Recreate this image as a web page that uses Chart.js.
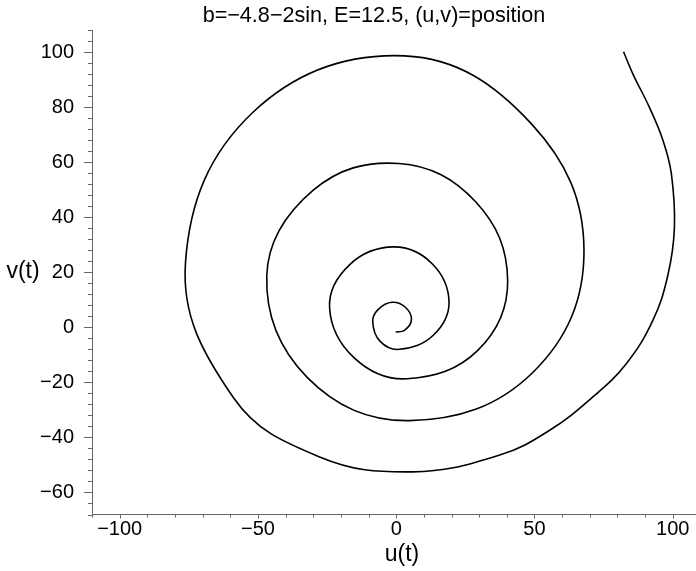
<!DOCTYPE html>
<html>
<head>
<meta charset="utf-8">
<script src="https://cdn.jsdelivr.net/npm/chart.js@4/dist/chart.umd.min.js"></script>
<style>
  html, body { margin: 0; padding: 0; background: #ffffff; }
  #wrap { width: 696px; height: 571px; position: relative; }
</style>
</head>
<body>
<div id="wrap"><canvas id="c" width="696" height="571"></canvas></div>
<script>
// ---- Data ----
const chartTitle = "b=\u22124.8\u22122sin, E=12.5, (u,v)=position";
const xAxisLabel = "u(t)";
const yAxisLabel = "v(t)";

const xMajorTicks = [-100, -50, 0, 50, 100];
const yMajorTicks = [-60, -40, -20, 0, 20, 40, 60, 80, 100];

// trajectory u(t), in drawing order (from the centre outward)
const uValues = [
  -0.2, 3.0, 5.5, 3.4, -1.5, -6.5, -8.5, -5.9, 1.2, 13.4,
  19.1, 13.0, -0.9, -16.8, -24.1, -15.1, 3.9, 29.5, 40.3, 28.8,
  1.0, -30.0, -46.8, -32.2, 4.8, 49.3, 67.9, 48.9, 3.0, -51.7,
  -76.2, -58.9, -27.7, 5.9, 37.4, 55.5, 71.1, 83.2, 92.8, 98.2,
  100.6, 99.5, 96.5, 91.6, 85.6, 82.2
];
// trajectory v(t), same order
const vValues = [
  -1.7, -1.1, 2.7, 7.2, 9.1, 6.5, 2.1, -5.0, -8.0, -2.9,
  9.1, 23.1, 29.2, 22.8, 7.3, -11.2, -18.7, -8.4, 17.0, 45.5,
  59.5, 49.8, 18.8, -18.2, -33.9, -16.5, 28.0, 73.9, 98.6, 78.2,
  23.5, -25.5, -47.1, -52.5, -46.4, -37.4, -25.3, -13.2, 2.5, 18.8,
  36.3, 55.7, 67.8, 79.8, 92.0, 100.1
];

// ---- Chart ----
const FONT = "'Liberation Sans', Arial, Helvetica, sans-serif";
const AXIS_COLOR = '#666666';
const X_MIN = -110, X_MAX = 108.4, Y_MIN = -68, Y_MAX = 108;

const points = uValues.map((u, i) => ({ x: u, y: vValues[i] }));
const fmt = v => (v < 0 ? '\u2212' + Math.abs(v) : String(v));

const decorPlugin = {
  id: 'decor',
  afterDraw(chart) {
    const ctx = chart.ctx;
    const xs = chart.scales.x, ys = chart.scales.y;
    const area = chart.chartArea;
    ctx.save();
    ctx.strokeStyle = AXIS_COLOR;
    ctx.lineWidth = 1;
    ctx.beginPath();
    // x ticks (every 10, majors every 50)
    for (let v = -110; v <= X_MAX; v += 10) {
      const px = Math.round(xs.getPixelForValue(v)) + 0.5;
      const len = (v % 50 === 0) ? 4 : 3;
      ctx.moveTo(px, area.bottom);
      ctx.lineTo(px, area.bottom + len);
    }
    // y ticks (every 4, majors every 20)
    for (let v = Y_MIN; v <= Y_MAX; v += 4) {
      const py = Math.round(ys.getPixelForValue(v)) + 0.5;
      const len = (v % 20 === 0) ? 8 : 4;
      ctx.moveTo(area.left, py);
      ctx.lineTo(area.left - len, py);
    }
    ctx.stroke();

    ctx.fillStyle = '#000000';
    ctx.textAlign = 'center';
    ctx.textBaseline = 'middle';
    ctx.font = '21.6px ' + FONT;
    ctx.fillText(chartTitle, 374, 16);
    ctx.font = '23px ' + FONT;
    ctx.fillText(xAxisLabel, 402, 555);
    ctx.fillText(yAxisLabel, 23, 272);
    ctx.restore();
  }
};

new Chart(document.getElementById('c'), {
  type: 'scatter',
  data: {
    datasets: [{
      data: points,
      showLine: true,
      borderColor: '#000000',
      borderWidth: 1.6,
      pointRadius: 0,
      pointHoverRadius: 0,
      tension: 0.4,
      fill: false
    }]
  },
  options: {
    responsive: false,
    animation: false,
    devicePixelRatio: 1,
    layout: { padding: { top: 29, left: 0, right: 0, bottom: 0 } },
    plugins: {
      legend: { display: false },
      title: { display: false },
      tooltip: { enabled: false }
    },
    scales: {
      x: {
        type: 'linear',
        min: X_MIN,
        max: X_MAX,
        afterFit: s => { s.height = 56.5; },
        afterBuildTicks: s => { s.ticks = xMajorTicks.map(v => ({ value: v })); },
        ticks: {
          autoSkip: false,
          includeBounds: false,
          maxRotation: 0,
          padding: 3,
          color: '#000000',
          font: { family: FONT, size: 20 },
          callback: v => fmt(v)
        },
        grid: { display: true, drawOnChartArea: false, drawTicks: false },
        border: { display: true, color: AXIS_COLOR, width: 1 }
      },
      y: {
        type: 'linear',
        min: Y_MIN,
        max: Y_MAX,
        afterFit: s => { s.width = 92; },
        afterBuildTicks: s => { s.ticks = yMajorTicks.map(v => ({ value: v })); },
        ticks: {
          autoSkip: false,
          includeBounds: false,
          padding: 18,
          color: '#000000',
          font: { family: FONT, size: 20 },
          callback: v => fmt(v)
        },
        grid: { display: true, drawOnChartArea: false, drawTicks: false },
        border: { display: true, color: AXIS_COLOR, width: 1 }
      }
    }
  },
  plugins: [decorPlugin]
});
</script>
</body>
</html>
